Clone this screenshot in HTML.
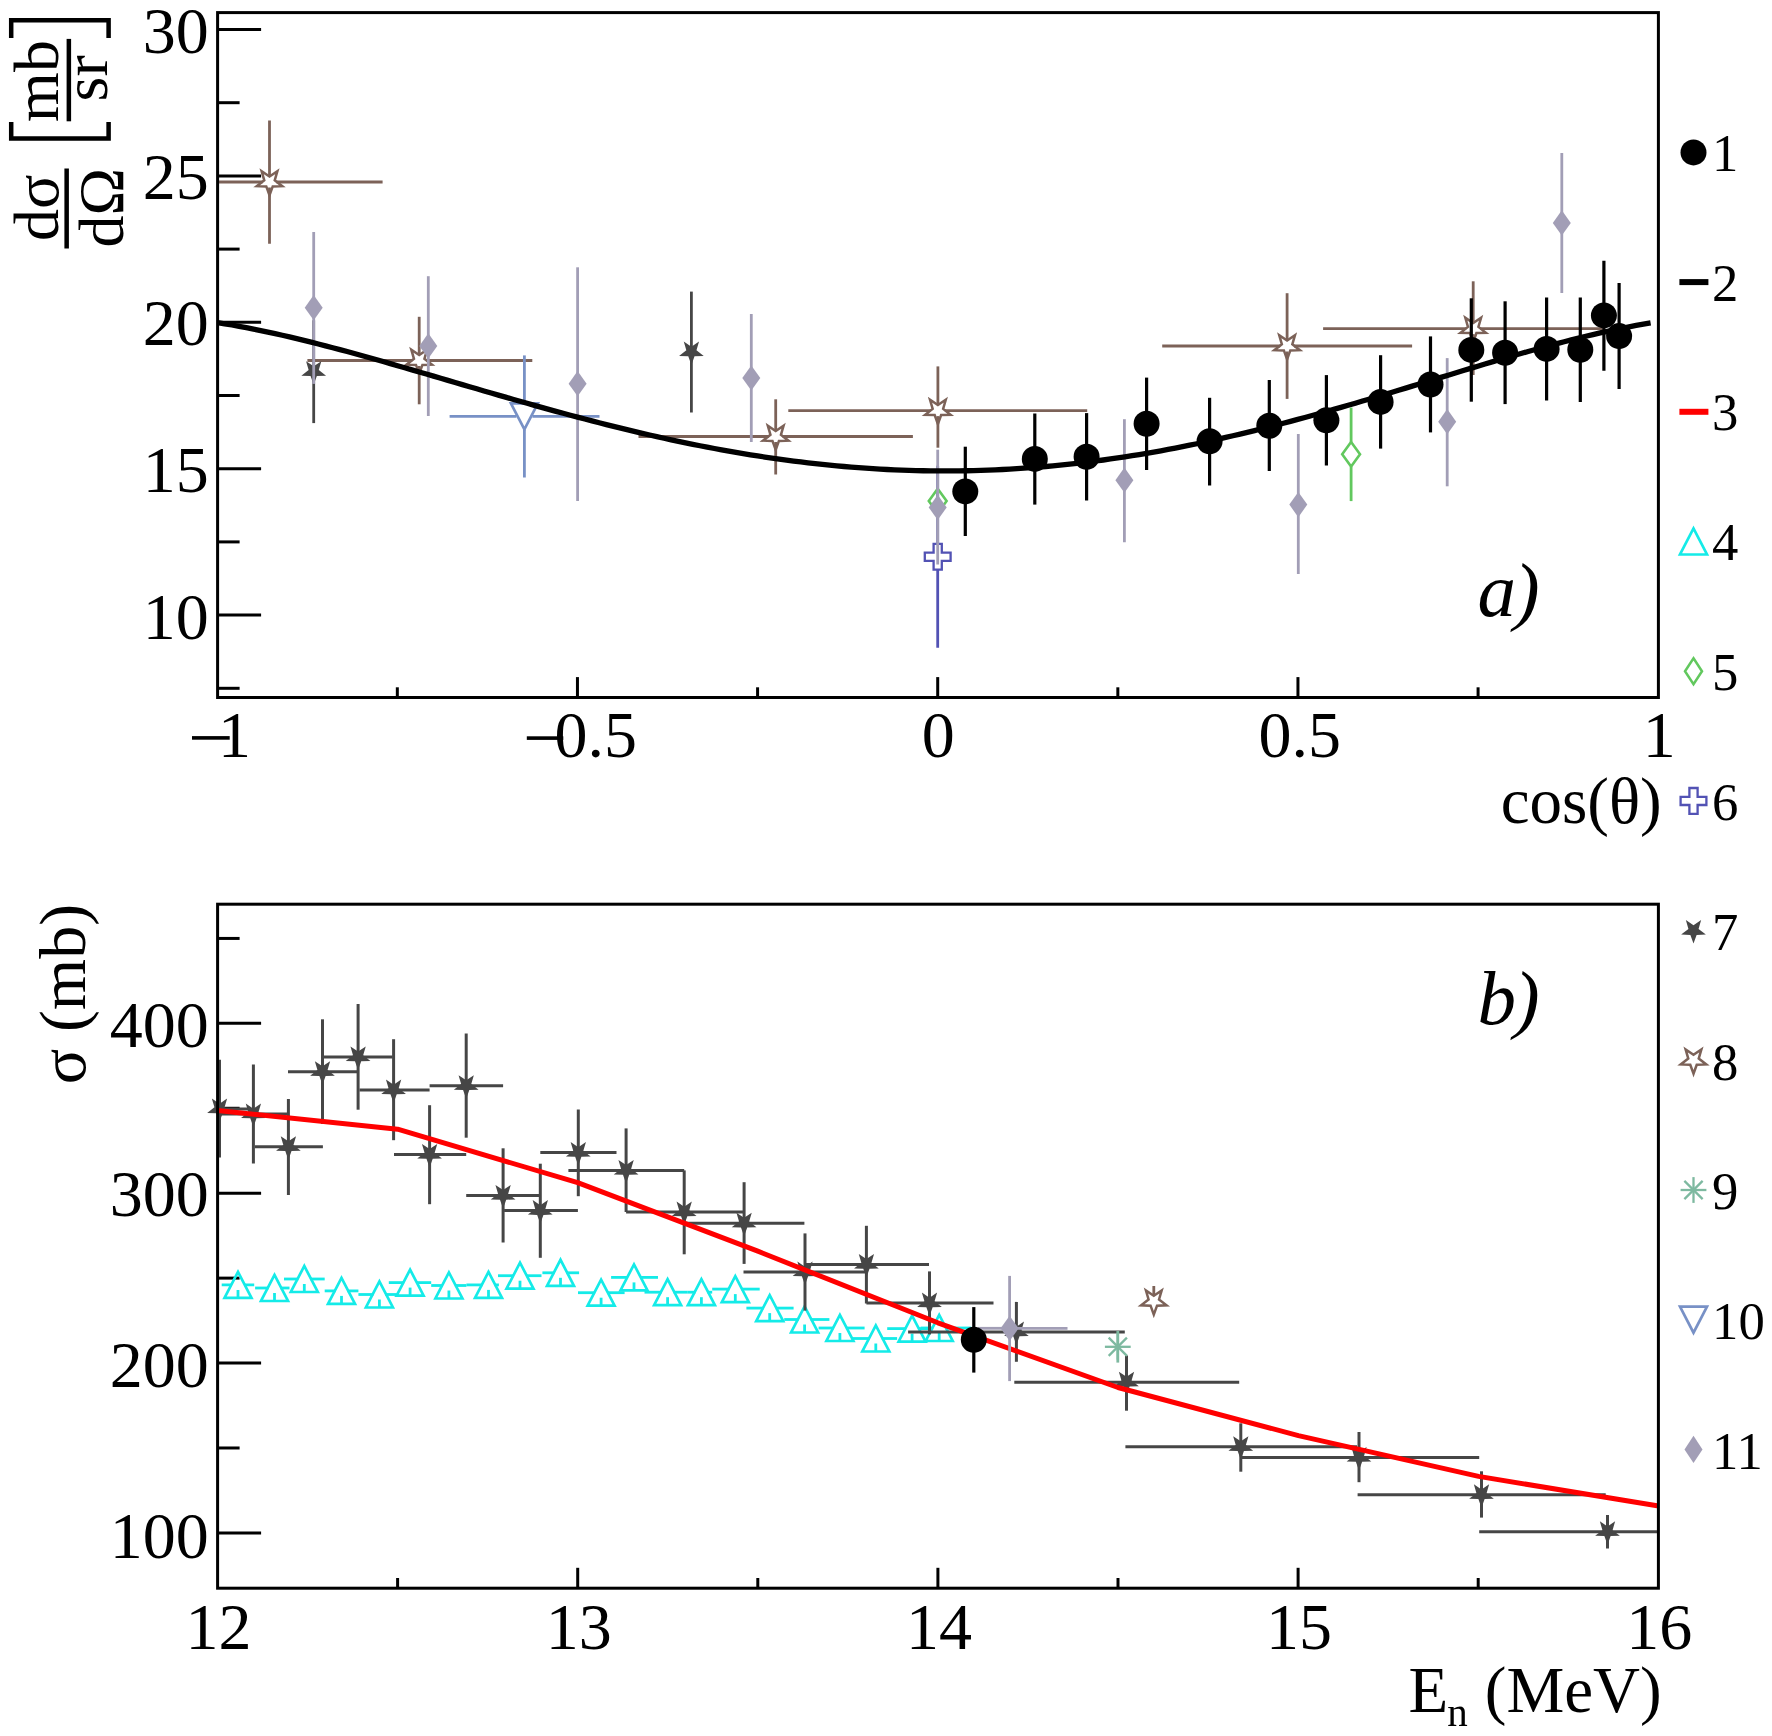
<!DOCTYPE html>
<html><head><meta charset="utf-8"><style>
html,body{margin:0;padding:0;background:#fff;width:1772px;height:1736px;overflow:hidden;}
svg text{font-family:"Liberation Serif",serif;fill:#000;}
</style></head><body>
<svg width="1772" height="1736" viewBox="0 0 1772 1736" style="display:block;will-change:transform">
<rect x="0" y="0" width="1772" height="1736" fill="#fff"/>
<line x1="217.6" y1="615.1" x2="261.1" y2="615.1" stroke="#000" stroke-width="3"/>
<line x1="217.6" y1="468.7" x2="261.1" y2="468.7" stroke="#000" stroke-width="3"/>
<line x1="217.6" y1="322.3" x2="261.1" y2="322.3" stroke="#000" stroke-width="3"/>
<line x1="217.6" y1="175.9" x2="261.1" y2="175.9" stroke="#000" stroke-width="3"/>
<line x1="217.6" y1="29.5" x2="261.1" y2="29.5" stroke="#000" stroke-width="3"/>
<line x1="217.6" y1="688.3" x2="239.6" y2="688.3" stroke="#000" stroke-width="3"/>
<line x1="217.6" y1="541.9" x2="239.6" y2="541.9" stroke="#000" stroke-width="3"/>
<line x1="217.6" y1="395.5" x2="239.6" y2="395.5" stroke="#000" stroke-width="3"/>
<line x1="217.6" y1="249.1" x2="239.6" y2="249.1" stroke="#000" stroke-width="3"/>
<line x1="217.6" y1="102.7" x2="239.6" y2="102.7" stroke="#000" stroke-width="3"/>
<line x1="577.45" y1="697.5" x2="577.45" y2="677.1" stroke="#000" stroke-width="3"/>
<line x1="937.7" y1="697.5" x2="937.7" y2="677.1" stroke="#000" stroke-width="3"/>
<line x1="1297.95" y1="697.5" x2="1297.95" y2="677.1" stroke="#000" stroke-width="3"/>
<line x1="397.33" y1="697.5" x2="397.33" y2="687.3" stroke="#000" stroke-width="3"/>
<line x1="757.58" y1="697.5" x2="757.58" y2="687.3" stroke="#000" stroke-width="3"/>
<line x1="1117.83" y1="697.5" x2="1117.83" y2="687.3" stroke="#000" stroke-width="3"/>
<line x1="1478.08" y1="697.5" x2="1478.08" y2="687.3" stroke="#000" stroke-width="3"/>
<line x1="217.6" y1="1532.9" x2="261.1" y2="1532.9" stroke="#000" stroke-width="3"/>
<line x1="217.6" y1="1363.05" x2="261.1" y2="1363.05" stroke="#000" stroke-width="3"/>
<line x1="217.6" y1="1193.2" x2="261.1" y2="1193.2" stroke="#000" stroke-width="3"/>
<line x1="217.6" y1="1023.35" x2="261.1" y2="1023.35" stroke="#000" stroke-width="3"/>
<line x1="217.6" y1="1447.98" x2="239.6" y2="1447.98" stroke="#000" stroke-width="3"/>
<line x1="217.6" y1="1278.12" x2="239.6" y2="1278.12" stroke="#000" stroke-width="3"/>
<line x1="217.6" y1="1108.28" x2="239.6" y2="1108.28" stroke="#000" stroke-width="3"/>
<line x1="217.6" y1="938.43" x2="239.6" y2="938.43" stroke="#000" stroke-width="3"/>
<line x1="577.7" y1="1588.2" x2="577.7" y2="1567.8" stroke="#000" stroke-width="3"/>
<line x1="937.9" y1="1588.2" x2="937.9" y2="1567.8" stroke="#000" stroke-width="3"/>
<line x1="1298.1" y1="1588.2" x2="1298.1" y2="1567.8" stroke="#000" stroke-width="3"/>
<line x1="397.6" y1="1588.2" x2="397.6" y2="1578" stroke="#000" stroke-width="3"/>
<line x1="757.8" y1="1588.2" x2="757.8" y2="1578" stroke="#000" stroke-width="3"/>
<line x1="1118" y1="1588.2" x2="1118" y2="1578" stroke="#000" stroke-width="3"/>
<line x1="1478.2" y1="1588.2" x2="1478.2" y2="1578" stroke="#000" stroke-width="3"/>
<text x="208.7" y="52.7" font-size="66" text-anchor="end" >30</text>
<text x="208.7" y="199.4" font-size="66" text-anchor="end" >25</text>
<text x="208.7" y="345.3" font-size="66" text-anchor="end" >20</text>
<text x="208.7" y="492.2" font-size="66" text-anchor="end" >15</text>
<text x="208.7" y="639.3" font-size="66" text-anchor="end" >10</text>
<text x="208.7" y="1046.9" font-size="66" text-anchor="end" >400</text>
<text x="208.7" y="1215.8" font-size="66" text-anchor="end" >300</text>
<text x="208.7" y="1387.2" font-size="66" text-anchor="end" >200</text>
<text x="208.7" y="1558" font-size="66" text-anchor="end" >100</text>
<rect x="192" y="736.1" width="37.7" height="3.6" fill="#000"/>
<text x="218.1" y="756.8" font-size="66" text-anchor="start" >1</text>
<rect x="526.8" y="736.3" width="36.5" height="3.6" fill="#000"/>
<text x="554.4" y="756.8" font-size="66" text-anchor="start" >0.5</text>
<text x="921.7" y="756.8" font-size="66" text-anchor="start" >0</text>
<text x="1258.5" y="756.8" font-size="66" text-anchor="start" >0.5</text>
<text x="1642.8" y="756.8" font-size="66" text-anchor="start" >1</text>
<text x="218.5" y="1648.6" font-size="66" text-anchor="middle" >12</text>
<text x="578.7" y="1648.6" font-size="66" text-anchor="middle" >13</text>
<text x="938.9" y="1648.6" font-size="66" text-anchor="middle" >14</text>
<text x="1299.1" y="1648.6" font-size="66" text-anchor="middle" >15</text>
<text x="1659.3" y="1648.6" font-size="66" text-anchor="middle" >16</text>
<text x="1500.7" y="822.9" font-size="65" text-anchor="start" >cos(θ)</text>
<text x="1408.4" y="1711.6" font-size="65" text-anchor="start" >E</text>
<text x="1447.3" y="1725.5" font-size="41" text-anchor="start" >n</text>
<text x="1484.8" y="1711.6" font-size="65" text-anchor="start" >(MeV)</text>
<text transform="translate(85.3,1084.2) rotate(-90)" font-size="66">σ (mb)</text>
<g transform="translate(0,0)">
<text transform="translate(57.8,207.8) rotate(-90)" font-size="64" text-anchor="middle">dσ</text>
<text transform="translate(123,207.8) rotate(-90)" font-size="64" text-anchor="middle">dΩ</text>
<rect x="64.4" y="168.5" width="4.5" height="80" fill="#000"/>
<text transform="translate(57.7,81) rotate(-90)" font-size="64" text-anchor="middle">mb</text>
<text transform="translate(107.1,78.3) rotate(-90)" font-size="64" text-anchor="middle">sr</text>
<rect x="66.6" y="38.9" width="4.5" height="82.4" fill="#000"/>
<path d="M11.2,122 L11.2,138.5 L108.6,138.5 L108.6,122" fill="none" stroke="#000" stroke-width="4.5"/>
<path d="M11.2,38 L11.2,20.2 L108.6,20.2 L108.6,38" fill="none" stroke="#000" stroke-width="4.5"/>
</g>
<text x="1477.6" y="615.9" font-size="77" text-anchor="start" font-style="italic" >a<tspan dx="-2">)</tspan></text>
<text x="1477.6" y="1024.2" font-size="77" text-anchor="start" font-style="italic" >b<tspan dx="-2">)</tspan></text>
<clipPath id="ca"><rect x="217.6" y="12.6" width="1440.8000000000002" height="684.9"/></clipPath>
<clipPath id="cb"><rect x="217.6" y="904.2" width="1440.8000000000002" height="684.0"/></clipPath>
<line x1="937.7" y1="465.7" x2="937.7" y2="543.8" stroke="#5252b4" stroke-width="2.8" clip-path="url(#ca)"/>
<line x1="937.7" y1="569.6" x2="937.7" y2="647.7" stroke="#5252b4" stroke-width="2.8" clip-path="url(#ca)"/>
<path d="M933.6,543.8 L941.8,543.8 L941.8,552.6 L950.6,552.6 L950.6,560.8 L941.8,560.8 L941.8,569.6 L933.6,569.6 L933.6,560.8 L924.8,560.8 L924.8,552.6 L933.6,552.6 Z" stroke="#5252b4" stroke-width="2.3" fill="none" />
<line x1="1351.1" y1="407.6" x2="1351.1" y2="441.9" stroke="#62c85e" stroke-width="2.8" clip-path="url(#ca)"/>
<line x1="1351.1" y1="466.5" x2="1351.1" y2="501.1" stroke="#62c85e" stroke-width="2.8" clip-path="url(#ca)"/>
<path d="M1351.1,441.9 L1360,454.2 L1351.1,466.5 L1342.2,454.2 Z" stroke="#62c85e" stroke-width="2.6" fill="none" />
<path d="M937.7,488.7 L946.6,501 L937.7,513.3 L928.8,501 Z" stroke="#62c85e" stroke-width="2.6" fill="none" />
<line x1="269.5" y1="120.4" x2="269.5" y2="176.5" stroke="#7c6258" stroke-width="2.8" clip-path="url(#ca)"/>
<line x1="269.5" y1="187.5" x2="269.5" y2="243.8" stroke="#7c6258" stroke-width="2.8" clip-path="url(#ca)"/>
<line x1="217" y1="182" x2="262.5" y2="182" stroke="#7c6258" stroke-width="2.8" clip-path="url(#ca)"/>
<line x1="276.5" y1="182" x2="382.6" y2="182" stroke="#7c6258" stroke-width="2.8" clip-path="url(#ca)"/>
<path d="M269.5,195.4 L266.27,186.45 L256.76,186.14 L264.27,180.3 L261.62,171.16 L269.5,176.5 L277.38,171.16 L274.73,180.3 L282.24,186.14 L272.73,186.45 Z" stroke="#7c6258" stroke-width="2.5" fill="none" stroke-linejoin="miter" stroke-miterlimit="10"/>
<line x1="419.2" y1="316.8" x2="419.2" y2="355" stroke="#7c6258" stroke-width="2.8" clip-path="url(#ca)"/>
<line x1="419.2" y1="366" x2="419.2" y2="404.3" stroke="#7c6258" stroke-width="2.8" clip-path="url(#ca)"/>
<line x1="307.4" y1="360.5" x2="412.2" y2="360.5" stroke="#7c6258" stroke-width="2.8" clip-path="url(#ca)"/>
<line x1="426.2" y1="360.5" x2="532.3" y2="360.5" stroke="#7c6258" stroke-width="2.8" clip-path="url(#ca)"/>
<path d="M419.2,373.9 L415.97,364.95 L406.46,364.64 L413.97,358.8 L411.32,349.66 L419.2,355 L427.08,349.66 L424.43,358.8 L431.94,364.64 L422.43,364.95 Z" stroke="#7c6258" stroke-width="2.5" fill="none" stroke-linejoin="miter" stroke-miterlimit="10"/>
<line x1="775.7" y1="399.3" x2="775.7" y2="431" stroke="#7c6258" stroke-width="2.8" clip-path="url(#ca)"/>
<line x1="775.7" y1="442" x2="775.7" y2="474.5" stroke="#7c6258" stroke-width="2.8" clip-path="url(#ca)"/>
<line x1="638.5" y1="436.5" x2="768.7" y2="436.5" stroke="#7c6258" stroke-width="2.8" clip-path="url(#ca)"/>
<line x1="782.7" y1="436.5" x2="912.9" y2="436.5" stroke="#7c6258" stroke-width="2.8" clip-path="url(#ca)"/>
<path d="M775.7,449.9 L772.47,440.95 L762.96,440.64 L770.47,434.8 L767.82,425.66 L775.7,431 L783.58,425.66 L780.93,434.8 L788.44,440.64 L778.93,440.95 Z" stroke="#7c6258" stroke-width="2.5" fill="none" stroke-linejoin="miter" stroke-miterlimit="10"/>
<line x1="937.9" y1="366.4" x2="937.9" y2="405.1" stroke="#7c6258" stroke-width="2.8" clip-path="url(#ca)"/>
<line x1="937.9" y1="416.1" x2="937.9" y2="447.7" stroke="#7c6258" stroke-width="2.8" clip-path="url(#ca)"/>
<line x1="788.3" y1="410.6" x2="930.9" y2="410.6" stroke="#7c6258" stroke-width="2.8" clip-path="url(#ca)"/>
<line x1="944.9" y1="410.6" x2="1087.2" y2="410.6" stroke="#7c6258" stroke-width="2.8" clip-path="url(#ca)"/>
<path d="M937.9,424 L934.67,415.05 L925.16,414.74 L932.67,408.9 L930.02,399.76 L937.9,405.1 L945.78,399.76 L943.13,408.9 L950.64,414.74 L941.13,415.05 Z" stroke="#7c6258" stroke-width="2.5" fill="none" stroke-linejoin="miter" stroke-miterlimit="10"/>
<line x1="1287.1" y1="293.2" x2="1287.1" y2="340.5" stroke="#7c6258" stroke-width="2.8" clip-path="url(#ca)"/>
<line x1="1287.1" y1="351.5" x2="1287.1" y2="398.9" stroke="#7c6258" stroke-width="2.8" clip-path="url(#ca)"/>
<line x1="1162.2" y1="346" x2="1280.1" y2="346" stroke="#7c6258" stroke-width="2.8" clip-path="url(#ca)"/>
<line x1="1294.1" y1="346" x2="1412.1" y2="346" stroke="#7c6258" stroke-width="2.8" clip-path="url(#ca)"/>
<path d="M1287.1,359.4 L1283.87,350.45 L1274.36,350.14 L1281.87,344.3 L1279.22,335.16 L1287.1,340.5 L1294.98,335.16 L1292.33,344.3 L1299.84,350.14 L1290.33,350.45 Z" stroke="#7c6258" stroke-width="2.5" fill="none" stroke-linejoin="miter" stroke-miterlimit="10"/>
<line x1="1473.2" y1="281.3" x2="1473.2" y2="323.1" stroke="#7c6258" stroke-width="2.8" clip-path="url(#ca)"/>
<line x1="1473.2" y1="334.1" x2="1473.2" y2="375" stroke="#7c6258" stroke-width="2.8" clip-path="url(#ca)"/>
<line x1="1323.1" y1="328.6" x2="1466.2" y2="328.6" stroke="#7c6258" stroke-width="2.8" clip-path="url(#ca)"/>
<line x1="1480.2" y1="328.6" x2="1602.6" y2="328.6" stroke="#7c6258" stroke-width="2.8" clip-path="url(#ca)"/>
<path d="M1473.2,342 L1469.97,333.05 L1460.46,332.74 L1467.97,326.9 L1465.32,317.76 L1473.2,323.1 L1481.08,317.76 L1478.43,326.9 L1485.94,332.74 L1476.43,333.05 Z" stroke="#7c6258" stroke-width="2.5" fill="none" stroke-linejoin="miter" stroke-miterlimit="10"/>
<line x1="313.7" y1="320.3" x2="313.7" y2="371.7" stroke="#464646" stroke-width="2.8" clip-path="url(#ca)"/>
<line x1="313.7" y1="371.7" x2="313.7" y2="423.1" stroke="#464646" stroke-width="2.8" clip-path="url(#ca)"/>
<path d="M313.7,384.7 L310.57,376.01 L301.34,375.72 L308.63,370.05 L306.06,361.18 L313.7,366.37 L321.34,361.18 L318.77,370.05 L326.06,375.72 L316.83,376.01 Z" stroke="none" stroke-width="0" fill="#464646" />
<line x1="691.4" y1="291.6" x2="691.4" y2="352" stroke="#464646" stroke-width="2.8" clip-path="url(#ca)"/>
<line x1="691.4" y1="352" x2="691.4" y2="412.5" stroke="#464646" stroke-width="2.8" clip-path="url(#ca)"/>
<path d="M691.4,365 L688.27,356.31 L679.04,356.02 L686.33,350.35 L683.76,341.48 L691.4,346.67 L699.04,341.48 L696.47,350.35 L703.76,356.02 L694.53,356.31 Z" stroke="none" stroke-width="0" fill="#464646" />
<line x1="524.4" y1="355.4" x2="524.4" y2="403.4" stroke="#7891c6" stroke-width="2.8" clip-path="url(#ca)"/>
<line x1="524.4" y1="429.4" x2="524.4" y2="477.5" stroke="#7891c6" stroke-width="2.8" clip-path="url(#ca)"/>
<line x1="449.6" y1="416.4" x2="516.4" y2="416.4" stroke="#7891c6" stroke-width="2.8" clip-path="url(#ca)"/>
<line x1="532.4" y1="416.4" x2="599.5" y2="416.4" stroke="#7891c6" stroke-width="2.8" clip-path="url(#ca)"/>
<path d="M510.9,403.4 L537.9,403.4 L524.4,429.4 Z" stroke="#7891c6" stroke-width="2.7" fill="none" />
<line x1="313.7" y1="232.1" x2="313.7" y2="307.7" stroke="#a29eb6" stroke-width="2.8" clip-path="url(#ca)"/>
<line x1="313.7" y1="307.7" x2="313.7" y2="383.9" stroke="#a29eb6" stroke-width="2.8" clip-path="url(#ca)"/>
<path d="M313.7,295.1 L322.7,307.7 L313.7,320.3 L304.7,307.7 Z" stroke="none" stroke-width="0" fill="#a29eb6" />
<line x1="428.3" y1="276.2" x2="428.3" y2="345.9" stroke="#a29eb6" stroke-width="2.8" clip-path="url(#ca)"/>
<line x1="428.3" y1="345.9" x2="428.3" y2="416" stroke="#a29eb6" stroke-width="2.8" clip-path="url(#ca)"/>
<path d="M428.3,333.3 L437.3,345.9 L428.3,358.5 L419.3,345.9 Z" stroke="none" stroke-width="0" fill="#a29eb6" />
<line x1="577.6" y1="267.3" x2="577.6" y2="383.7" stroke="#a29eb6" stroke-width="2.8" clip-path="url(#ca)"/>
<line x1="577.6" y1="383.7" x2="577.6" y2="501" stroke="#a29eb6" stroke-width="2.8" clip-path="url(#ca)"/>
<path d="M577.6,371.1 L586.6,383.7 L577.6,396.3 L568.6,383.7 Z" stroke="none" stroke-width="0" fill="#a29eb6" />
<line x1="751.3" y1="314" x2="751.3" y2="378" stroke="#a29eb6" stroke-width="2.8" clip-path="url(#ca)"/>
<line x1="751.3" y1="378" x2="751.3" y2="442" stroke="#a29eb6" stroke-width="2.8" clip-path="url(#ca)"/>
<path d="M751.3,365.4 L760.3,378 L751.3,390.6 L742.3,378 Z" stroke="none" stroke-width="0" fill="#a29eb6" />
<line x1="937.7" y1="449.7" x2="937.7" y2="507.4" stroke="#a29eb6" stroke-width="2.8" clip-path="url(#ca)"/>
<line x1="937.7" y1="507.4" x2="937.7" y2="564.5" stroke="#a29eb6" stroke-width="2.8" clip-path="url(#ca)"/>
<path d="M937.7,494.8 L946.7,507.4 L937.7,520 L928.7,507.4 Z" stroke="none" stroke-width="0" fill="#a29eb6" />
<line x1="1124.4" y1="419.2" x2="1124.4" y2="480.2" stroke="#a29eb6" stroke-width="2.8" clip-path="url(#ca)"/>
<line x1="1124.4" y1="480.2" x2="1124.4" y2="542.2" stroke="#a29eb6" stroke-width="2.8" clip-path="url(#ca)"/>
<path d="M1124.4,467.6 L1133.4,480.2 L1124.4,492.8 L1115.4,480.2 Z" stroke="none" stroke-width="0" fill="#a29eb6" />
<line x1="1298.3" y1="434" x2="1298.3" y2="504.6" stroke="#a29eb6" stroke-width="2.8" clip-path="url(#ca)"/>
<line x1="1298.3" y1="504.6" x2="1298.3" y2="574.1" stroke="#a29eb6" stroke-width="2.8" clip-path="url(#ca)"/>
<path d="M1298.3,492 L1307.3,504.6 L1298.3,517.2 L1289.3,504.6 Z" stroke="none" stroke-width="0" fill="#a29eb6" />
<line x1="1447.2" y1="358.1" x2="1447.2" y2="421.7" stroke="#a29eb6" stroke-width="2.8" clip-path="url(#ca)"/>
<line x1="1447.2" y1="421.7" x2="1447.2" y2="486.3" stroke="#a29eb6" stroke-width="2.8" clip-path="url(#ca)"/>
<path d="M1447.2,409.1 L1456.2,421.7 L1447.2,434.3 L1438.2,421.7 Z" stroke="none" stroke-width="0" fill="#a29eb6" />
<line x1="1561.8" y1="152.9" x2="1561.8" y2="222.9" stroke="#a29eb6" stroke-width="2.8" clip-path="url(#ca)"/>
<line x1="1561.8" y1="222.9" x2="1561.8" y2="293" stroke="#a29eb6" stroke-width="2.8" clip-path="url(#ca)"/>
<path d="M1561.8,210.3 L1570.8,222.9 L1561.8,235.5 L1552.8,222.9 Z" stroke="none" stroke-width="0" fill="#a29eb6" />
<path d="M217.5,322.58 L224.7,323.76 L231.9,325 L239.1,326.3 L246.31,327.66 L253.51,329.08 L260.71,330.55 L267.91,332.08 L275.11,333.65 L282.31,335.27 L289.52,336.93 L296.72,338.64 L303.92,340.39 L311.12,342.17 L318.32,343.99 L325.52,345.84 L332.72,347.72 L339.93,349.63 L347.13,351.56 L354.33,353.52 L361.53,355.51 L368.73,357.51 L375.93,359.53 L383.13,361.57 L390.34,363.63 L397.54,365.69 L404.74,367.77 L411.94,369.86 L419.14,371.95 L426.34,374.06 L433.55,376.16 L440.75,378.27 L447.95,380.38 L455.15,382.5 L462.35,384.61 L469.55,386.72 L476.75,388.82 L483.96,390.92 L491.16,393.01 L498.36,395.09 L505.56,397.17 L512.76,399.23 L519.96,401.28 L527.16,403.32 L534.37,405.35 L541.57,407.36 L548.77,409.35 L555.97,411.33 L563.17,413.29 L570.37,415.22 L577.58,417.14 L584.78,419.04 L591.98,420.91 L599.18,422.76 L606.38,424.59 L613.58,426.39 L620.78,428.16 L627.99,429.91 L635.19,431.63 L642.39,433.32 L649.59,434.98 L656.79,436.62 L663.99,438.22 L671.19,439.79 L678.4,441.33 L685.6,442.83 L692.8,444.3 L700,445.74 L707.2,447.14 L714.4,448.51 L721.61,449.84 L728.81,451.14 L736.01,452.39 L743.21,453.61 L750.41,454.8 L757.61,455.94 L764.81,457.05 L772.02,458.11 L779.22,459.14 L786.42,460.12 L793.62,461.07 L800.82,461.97 L808.02,462.83 L815.23,463.65 L822.43,464.43 L829.63,465.17 L836.83,465.86 L844.03,466.51 L851.23,467.11 L858.43,467.68 L865.64,468.19 L872.84,468.67 L880.04,469.1 L887.24,469.48 L894.44,469.82 L901.64,470.12 L908.84,470.37 L916.05,470.58 L923.25,470.74 L930.45,470.85 L937.65,470.92 L944.85,470.95 L952.05,470.92 L959.26,470.86 L966.46,470.74 L973.66,470.59 L980.86,470.38 L988.06,470.13 L995.26,469.84 L1002.46,469.49 L1009.67,469.11 L1016.87,468.67 L1024.07,468.2 L1031.27,467.67 L1038.47,467.11 L1045.67,466.49 L1052.87,465.84 L1060.08,465.13 L1067.28,464.39 L1074.48,463.6 L1081.68,462.76 L1088.88,461.88 L1096.08,460.96 L1103.29,460 L1110.49,458.99 L1117.69,457.94 L1124.89,456.85 L1132.09,455.72 L1139.29,454.54 L1146.49,453.33 L1153.7,452.07 L1160.9,450.78 L1168.1,449.45 L1175.3,448.07 L1182.5,446.66 L1189.7,445.21 L1196.91,443.73 L1204.11,442.2 L1211.31,440.65 L1218.51,439.05 L1225.71,437.43 L1232.91,435.76 L1240.11,434.07 L1247.32,432.34 L1254.52,430.58 L1261.72,428.79 L1268.92,426.97 L1276.12,425.13 L1283.32,423.25 L1290.52,421.35 L1297.73,419.42 L1304.93,417.46 L1312.13,415.48 L1319.33,413.48 L1326.53,411.46 L1333.73,409.41 L1340.94,407.35 L1348.14,405.27 L1355.34,403.17 L1362.54,401.05 L1369.74,398.92 L1376.94,396.77 L1384.14,394.62 L1391.35,392.45 L1398.55,390.28 L1405.75,388.09 L1412.95,385.9 L1420.15,383.71 L1427.35,381.51 L1434.55,379.31 L1441.76,377.12 L1448.96,374.92 L1456.16,372.73 L1463.36,370.54 L1470.56,368.36 L1477.76,366.2 L1484.97,364.04 L1492.17,361.9 L1499.37,359.77 L1506.57,357.66 L1513.77,355.57 L1520.97,353.5 L1528.17,351.46 L1535.38,349.44 L1542.58,347.45 L1549.78,345.5 L1556.98,343.58 L1564.18,341.69 L1571.38,339.85 L1578.58,338.04 L1585.79,336.28 L1592.99,334.57 L1600.19,332.91 L1607.39,331.3 L1614.59,329.75 L1621.79,328.25 L1629,326.82 L1636.2,325.46 L1643.4,324.16 L1650.6,322.93" stroke="#000" stroke-width="5.3" fill="none" stroke-linejoin="round" clip-path="url(#ca)"/>
<line x1="965.3" y1="446.7" x2="965.3" y2="491.4" stroke="#000000" stroke-width="3.2" clip-path="url(#ca)"/>
<line x1="965.3" y1="491.4" x2="965.3" y2="536" stroke="#000000" stroke-width="3.2" clip-path="url(#ca)"/>
<circle cx="965.3" cy="491.4" r="13" fill="#000000"/>
<line x1="1034.8" y1="413.5" x2="1034.8" y2="458.9" stroke="#000000" stroke-width="3.2" clip-path="url(#ca)"/>
<line x1="1034.8" y1="458.9" x2="1034.8" y2="504.6" stroke="#000000" stroke-width="3.2" clip-path="url(#ca)"/>
<circle cx="1034.8" cy="458.9" r="13" fill="#000000"/>
<line x1="1086.6" y1="413.1" x2="1086.6" y2="456.8" stroke="#000000" stroke-width="3.2" clip-path="url(#ca)"/>
<line x1="1086.6" y1="456.8" x2="1086.6" y2="500.5" stroke="#000000" stroke-width="3.2" clip-path="url(#ca)"/>
<circle cx="1086.6" cy="456.8" r="13" fill="#000000"/>
<line x1="1146.6" y1="377.6" x2="1146.6" y2="423.7" stroke="#000000" stroke-width="3.2" clip-path="url(#ca)"/>
<line x1="1146.6" y1="423.7" x2="1146.6" y2="470" stroke="#000000" stroke-width="3.2" clip-path="url(#ca)"/>
<circle cx="1146.6" cy="423.7" r="13" fill="#000000"/>
<line x1="1209.6" y1="397.8" x2="1209.6" y2="441.3" stroke="#000000" stroke-width="3.2" clip-path="url(#ca)"/>
<line x1="1209.6" y1="441.3" x2="1209.6" y2="485.5" stroke="#000000" stroke-width="3.2" clip-path="url(#ca)"/>
<circle cx="1209.6" cy="441.3" r="13" fill="#000000"/>
<line x1="1269.3" y1="380" x2="1269.3" y2="425.7" stroke="#000000" stroke-width="3.2" clip-path="url(#ca)"/>
<line x1="1269.3" y1="425.7" x2="1269.3" y2="471" stroke="#000000" stroke-width="3.2" clip-path="url(#ca)"/>
<circle cx="1269.3" cy="425.7" r="13" fill="#000000"/>
<line x1="1326.4" y1="375.1" x2="1326.4" y2="420.2" stroke="#000000" stroke-width="3.2" clip-path="url(#ca)"/>
<line x1="1326.4" y1="420.2" x2="1326.4" y2="465.5" stroke="#000000" stroke-width="3.2" clip-path="url(#ca)"/>
<circle cx="1326.4" cy="420.2" r="13" fill="#000000"/>
<line x1="1380.6" y1="355.2" x2="1380.6" y2="401.9" stroke="#000000" stroke-width="3.2" clip-path="url(#ca)"/>
<line x1="1380.6" y1="401.9" x2="1380.6" y2="448.6" stroke="#000000" stroke-width="3.2" clip-path="url(#ca)"/>
<circle cx="1380.6" cy="401.9" r="13" fill="#000000"/>
<line x1="1430.5" y1="336.4" x2="1430.5" y2="384.5" stroke="#000000" stroke-width="3.2" clip-path="url(#ca)"/>
<line x1="1430.5" y1="384.5" x2="1430.5" y2="432.4" stroke="#000000" stroke-width="3.2" clip-path="url(#ca)"/>
<circle cx="1430.5" cy="384.5" r="13" fill="#000000"/>
<line x1="1471.3" y1="298.3" x2="1471.3" y2="349.9" stroke="#000000" stroke-width="3.2" clip-path="url(#ca)"/>
<line x1="1471.3" y1="349.9" x2="1471.3" y2="401.7" stroke="#000000" stroke-width="3.2" clip-path="url(#ca)"/>
<circle cx="1471.3" cy="349.9" r="13" fill="#000000"/>
<line x1="1505.1" y1="301.3" x2="1505.1" y2="352.8" stroke="#000000" stroke-width="3.2" clip-path="url(#ca)"/>
<line x1="1505.1" y1="352.8" x2="1505.1" y2="404.1" stroke="#000000" stroke-width="3.2" clip-path="url(#ca)"/>
<circle cx="1505.1" cy="352.8" r="13" fill="#000000"/>
<line x1="1546.6" y1="297.4" x2="1546.6" y2="348.9" stroke="#000000" stroke-width="3.2" clip-path="url(#ca)"/>
<line x1="1546.6" y1="348.9" x2="1546.6" y2="400.4" stroke="#000000" stroke-width="3.2" clip-path="url(#ca)"/>
<circle cx="1546.6" cy="348.9" r="13" fill="#000000"/>
<line x1="1580.3" y1="297.4" x2="1580.3" y2="349.8" stroke="#000000" stroke-width="3.2" clip-path="url(#ca)"/>
<line x1="1580.3" y1="349.8" x2="1580.3" y2="401.9" stroke="#000000" stroke-width="3.2" clip-path="url(#ca)"/>
<circle cx="1580.3" cy="349.8" r="13" fill="#000000"/>
<line x1="1603.9" y1="260.7" x2="1603.9" y2="315.4" stroke="#000000" stroke-width="3.2" clip-path="url(#ca)"/>
<line x1="1603.9" y1="315.4" x2="1603.9" y2="370.7" stroke="#000000" stroke-width="3.2" clip-path="url(#ca)"/>
<circle cx="1603.9" cy="315.4" r="13" fill="#000000"/>
<line x1="1619.1" y1="283.1" x2="1619.1" y2="336.1" stroke="#000000" stroke-width="3.2" clip-path="url(#ca)"/>
<line x1="1619.1" y1="336.1" x2="1619.1" y2="388.9" stroke="#000000" stroke-width="3.2" clip-path="url(#ca)"/>
<circle cx="1619.1" cy="336.1" r="13" fill="#000000"/>
<line x1="221.7" y1="1284.9" x2="232" y2="1284.9" stroke="#14ebe8" stroke-width="2.8" clip-path="url(#cb)"/>
<line x1="244" y1="1284.9" x2="254.2" y2="1284.9" stroke="#14ebe8" stroke-width="2.8" clip-path="url(#cb)"/>
<line x1="238" y1="1289.9" x2="238" y2="1297.9" stroke="#14ebe8" stroke-width="2.8" clip-path="url(#cb)"/>
<path d="M224.5,1297.9 L251.5,1297.9 L238,1271.9 Z" stroke="#14ebe8" stroke-width="2.7" fill="none" />
<line x1="255.1" y1="1288" x2="268.5" y2="1288" stroke="#14ebe8" stroke-width="2.8" clip-path="url(#cb)"/>
<line x1="280.5" y1="1288" x2="289.5" y2="1288" stroke="#14ebe8" stroke-width="2.8" clip-path="url(#cb)"/>
<line x1="274.5" y1="1293" x2="274.5" y2="1301" stroke="#14ebe8" stroke-width="2.8" clip-path="url(#cb)"/>
<path d="M261,1301 L288,1301 L274.5,1275 Z" stroke="#14ebe8" stroke-width="2.7" fill="none" />
<line x1="284" y1="1279" x2="298.3" y2="1279" stroke="#14ebe8" stroke-width="2.8" clip-path="url(#cb)"/>
<line x1="310.3" y1="1279" x2="324.7" y2="1279" stroke="#14ebe8" stroke-width="2.8" clip-path="url(#cb)"/>
<line x1="304.3" y1="1284" x2="304.3" y2="1292" stroke="#14ebe8" stroke-width="2.8" clip-path="url(#cb)"/>
<path d="M290.8,1292 L317.8,1292 L304.3,1266 Z" stroke="#14ebe8" stroke-width="2.7" fill="none" />
<line x1="324.7" y1="1290.9" x2="335.5" y2="1290.9" stroke="#14ebe8" stroke-width="2.8" clip-path="url(#cb)"/>
<line x1="347.5" y1="1290.9" x2="358.4" y2="1290.9" stroke="#14ebe8" stroke-width="2.8" clip-path="url(#cb)"/>
<line x1="341.5" y1="1295.9" x2="341.5" y2="1303.9" stroke="#14ebe8" stroke-width="2.8" clip-path="url(#cb)"/>
<path d="M328,1303.9 L355,1303.9 L341.5,1277.9 Z" stroke="#14ebe8" stroke-width="2.7" fill="none" />
<line x1="358.4" y1="1294.5" x2="373.4" y2="1294.5" stroke="#14ebe8" stroke-width="2.8" clip-path="url(#cb)"/>
<line x1="385.4" y1="1294.5" x2="396.9" y2="1294.5" stroke="#14ebe8" stroke-width="2.8" clip-path="url(#cb)"/>
<line x1="379.4" y1="1299.5" x2="379.4" y2="1307.5" stroke="#14ebe8" stroke-width="2.8" clip-path="url(#cb)"/>
<path d="M365.9,1307.5 L392.9,1307.5 L379.4,1281.5 Z" stroke="#14ebe8" stroke-width="2.7" fill="none" />
<line x1="388.8" y1="1282.6" x2="404.1" y2="1282.6" stroke="#14ebe8" stroke-width="2.8" clip-path="url(#cb)"/>
<line x1="416.1" y1="1282.6" x2="431.2" y2="1282.6" stroke="#14ebe8" stroke-width="2.8" clip-path="url(#cb)"/>
<line x1="410.1" y1="1287.6" x2="410.1" y2="1295.6" stroke="#14ebe8" stroke-width="2.8" clip-path="url(#cb)"/>
<path d="M396.6,1295.6 L423.6,1295.6 L410.1,1269.6 Z" stroke="#14ebe8" stroke-width="2.7" fill="none" />
<line x1="431.2" y1="1285.5" x2="442.9" y2="1285.5" stroke="#14ebe8" stroke-width="2.8" clip-path="url(#cb)"/>
<line x1="454.9" y1="1285.5" x2="466.4" y2="1285.5" stroke="#14ebe8" stroke-width="2.8" clip-path="url(#cb)"/>
<line x1="448.9" y1="1290.5" x2="448.9" y2="1298.5" stroke="#14ebe8" stroke-width="2.8" clip-path="url(#cb)"/>
<path d="M435.4,1298.5 L462.4,1298.5 L448.9,1272.5 Z" stroke="#14ebe8" stroke-width="2.7" fill="none" />
<line x1="466.4" y1="1284.9" x2="482.5" y2="1284.9" stroke="#14ebe8" stroke-width="2.8" clip-path="url(#cb)"/>
<line x1="494.5" y1="1284.9" x2="498.9" y2="1284.9" stroke="#14ebe8" stroke-width="2.8" clip-path="url(#cb)"/>
<line x1="488.5" y1="1289.9" x2="488.5" y2="1297.9" stroke="#14ebe8" stroke-width="2.8" clip-path="url(#cb)"/>
<path d="M475,1297.9 L502,1297.9 L488.5,1271.9 Z" stroke="#14ebe8" stroke-width="2.7" fill="none" />
<line x1="498" y1="1275.7" x2="514" y2="1275.7" stroke="#14ebe8" stroke-width="2.8" clip-path="url(#cb)"/>
<line x1="526" y1="1275.7" x2="541.5" y2="1275.7" stroke="#14ebe8" stroke-width="2.8" clip-path="url(#cb)"/>
<line x1="520" y1="1280.7" x2="520" y2="1288.7" stroke="#14ebe8" stroke-width="2.8" clip-path="url(#cb)"/>
<path d="M506.5,1288.7 L533.5,1288.7 L520,1262.7 Z" stroke="#14ebe8" stroke-width="2.7" fill="none" />
<line x1="542.4" y1="1272.8" x2="554.5" y2="1272.8" stroke="#14ebe8" stroke-width="2.8" clip-path="url(#cb)"/>
<line x1="566.5" y1="1272.8" x2="579.1" y2="1272.8" stroke="#14ebe8" stroke-width="2.8" clip-path="url(#cb)"/>
<line x1="560.5" y1="1277.8" x2="560.5" y2="1285.8" stroke="#14ebe8" stroke-width="2.8" clip-path="url(#cb)"/>
<path d="M547,1285.8 L574,1285.8 L560.5,1259.8 Z" stroke="#14ebe8" stroke-width="2.7" fill="none" />
<line x1="578" y1="1292.7" x2="595.1" y2="1292.7" stroke="#14ebe8" stroke-width="2.8" clip-path="url(#cb)"/>
<line x1="607.1" y1="1292.7" x2="624.6" y2="1292.7" stroke="#14ebe8" stroke-width="2.8" clip-path="url(#cb)"/>
<line x1="601.1" y1="1297.7" x2="601.1" y2="1305.7" stroke="#14ebe8" stroke-width="2.8" clip-path="url(#cb)"/>
<path d="M587.6,1305.7 L614.6,1305.7 L601.1,1279.7 Z" stroke="#14ebe8" stroke-width="2.7" fill="none" />
<line x1="611.1" y1="1277.4" x2="628" y2="1277.4" stroke="#14ebe8" stroke-width="2.8" clip-path="url(#cb)"/>
<line x1="640" y1="1277.4" x2="658" y2="1277.4" stroke="#14ebe8" stroke-width="2.8" clip-path="url(#cb)"/>
<line x1="634" y1="1282.4" x2="634" y2="1290.4" stroke="#14ebe8" stroke-width="2.8" clip-path="url(#cb)"/>
<path d="M620.5,1290.4 L647.5,1290.4 L634,1264.4 Z" stroke="#14ebe8" stroke-width="2.7" fill="none" />
<line x1="644.5" y1="1292.2" x2="661.6" y2="1292.2" stroke="#14ebe8" stroke-width="2.8" clip-path="url(#cb)"/>
<line x1="673.6" y1="1292.2" x2="687.8" y2="1292.2" stroke="#14ebe8" stroke-width="2.8" clip-path="url(#cb)"/>
<line x1="667.6" y1="1297.2" x2="667.6" y2="1305.2" stroke="#14ebe8" stroke-width="2.8" clip-path="url(#cb)"/>
<path d="M654.1,1305.2 L681.1,1305.2 L667.6,1279.2 Z" stroke="#14ebe8" stroke-width="2.7" fill="none" />
<line x1="687.8" y1="1292.2" x2="695.4" y2="1292.2" stroke="#14ebe8" stroke-width="2.8" clip-path="url(#cb)"/>
<line x1="707.4" y1="1292.2" x2="712.2" y2="1292.2" stroke="#14ebe8" stroke-width="2.8" clip-path="url(#cb)"/>
<line x1="701.4" y1="1297.2" x2="701.4" y2="1305.2" stroke="#14ebe8" stroke-width="2.8" clip-path="url(#cb)"/>
<path d="M687.9,1305.2 L714.9,1305.2 L701.4,1279.2 Z" stroke="#14ebe8" stroke-width="2.7" fill="none" />
<line x1="712.2" y1="1289.1" x2="729.3" y2="1289.1" stroke="#14ebe8" stroke-width="2.8" clip-path="url(#cb)"/>
<line x1="741.3" y1="1289.1" x2="759.7" y2="1289.1" stroke="#14ebe8" stroke-width="2.8" clip-path="url(#cb)"/>
<line x1="735.3" y1="1294.1" x2="735.3" y2="1302.1" stroke="#14ebe8" stroke-width="2.8" clip-path="url(#cb)"/>
<path d="M721.8,1302.1 L748.8,1302.1 L735.3,1276.1 Z" stroke="#14ebe8" stroke-width="2.7" fill="none" />
<line x1="746.4" y1="1308.1" x2="763.7" y2="1308.1" stroke="#14ebe8" stroke-width="2.8" clip-path="url(#cb)"/>
<line x1="775.7" y1="1308.1" x2="793.6" y2="1308.1" stroke="#14ebe8" stroke-width="2.8" clip-path="url(#cb)"/>
<line x1="769.7" y1="1313.1" x2="769.7" y2="1321.1" stroke="#14ebe8" stroke-width="2.8" clip-path="url(#cb)"/>
<path d="M756.2,1321.1 L783.2,1321.1 L769.7,1295.1 Z" stroke="#14ebe8" stroke-width="2.7" fill="none" />
<line x1="784.2" y1="1319.5" x2="798.6" y2="1319.5" stroke="#14ebe8" stroke-width="2.8" clip-path="url(#cb)"/>
<line x1="810.6" y1="1319.5" x2="829.4" y2="1319.5" stroke="#14ebe8" stroke-width="2.8" clip-path="url(#cb)"/>
<line x1="804.6" y1="1324.5" x2="804.6" y2="1332.5" stroke="#14ebe8" stroke-width="2.8" clip-path="url(#cb)"/>
<path d="M791.1,1332.5 L818.1,1332.5 L804.6,1306.5 Z" stroke="#14ebe8" stroke-width="2.7" fill="none" />
<line x1="818.6" y1="1328" x2="833.9" y2="1328" stroke="#14ebe8" stroke-width="2.8" clip-path="url(#cb)"/>
<line x1="845.9" y1="1328" x2="864.6" y2="1328" stroke="#14ebe8" stroke-width="2.8" clip-path="url(#cb)"/>
<line x1="839.9" y1="1333" x2="839.9" y2="1341" stroke="#14ebe8" stroke-width="2.8" clip-path="url(#cb)"/>
<path d="M826.4,1341 L853.4,1341 L839.9,1315 Z" stroke="#14ebe8" stroke-width="2.7" fill="none" />
<line x1="852" y1="1338.5" x2="869.8" y2="1338.5" stroke="#14ebe8" stroke-width="2.8" clip-path="url(#cb)"/>
<line x1="881.8" y1="1338.5" x2="897.1" y2="1338.5" stroke="#14ebe8" stroke-width="2.8" clip-path="url(#cb)"/>
<line x1="875.8" y1="1343.5" x2="875.8" y2="1351.5" stroke="#14ebe8" stroke-width="2.8" clip-path="url(#cb)"/>
<path d="M862.3,1351.5 L889.3,1351.5 L875.8,1325.5 Z" stroke="#14ebe8" stroke-width="2.7" fill="none" />
<line x1="887.2" y1="1328.6" x2="906.1" y2="1328.6" stroke="#14ebe8" stroke-width="2.8" clip-path="url(#cb)"/>
<line x1="918.1" y1="1328.6" x2="931.4" y2="1328.6" stroke="#14ebe8" stroke-width="2.8" clip-path="url(#cb)"/>
<line x1="912.1" y1="1333.6" x2="912.1" y2="1341.6" stroke="#14ebe8" stroke-width="2.8" clip-path="url(#cb)"/>
<path d="M898.6,1341.6 L925.6,1341.6 L912.1,1315.6 Z" stroke="#14ebe8" stroke-width="2.7" fill="none" />
<line x1="920.6" y1="1328" x2="933.2" y2="1328" stroke="#14ebe8" stroke-width="2.8" clip-path="url(#cb)"/>
<line x1="945.2" y1="1328" x2="971.2" y2="1328" stroke="#14ebe8" stroke-width="2.8" clip-path="url(#cb)"/>
<line x1="939.2" y1="1333" x2="939.2" y2="1341" stroke="#14ebe8" stroke-width="2.8" clip-path="url(#cb)"/>
<path d="M925.7,1341 L952.7,1341 L939.2,1315 Z" stroke="#14ebe8" stroke-width="2.7" fill="none" />
<line x1="219.5" y1="1059.7" x2="219.5" y2="1109" stroke="#464646" stroke-width="3" clip-path="url(#cb)"/>
<line x1="219.5" y1="1109" x2="219.5" y2="1157.5" stroke="#464646" stroke-width="3" clip-path="url(#cb)"/>
<line x1="217" y1="1109" x2="219.5" y2="1109" stroke="#464646" stroke-width="3" clip-path="url(#cb)"/>
<line x1="219.5" y1="1109" x2="250" y2="1109" stroke="#464646" stroke-width="3" clip-path="url(#cb)"/>
<path d="M219.5,1122 L216.37,1113.31 L207.14,1113.02 L214.43,1107.35 L211.86,1098.48 L219.5,1103.67 L227.14,1098.48 L224.57,1107.35 L231.86,1113.02 L222.63,1113.31 Z" stroke="none" stroke-width="0" fill="#464646" />
<line x1="253.4" y1="1064.5" x2="253.4" y2="1114" stroke="#464646" stroke-width="3" clip-path="url(#cb)"/>
<line x1="253.4" y1="1114" x2="253.4" y2="1163.6" stroke="#464646" stroke-width="3" clip-path="url(#cb)"/>
<line x1="218" y1="1114" x2="253.4" y2="1114" stroke="#464646" stroke-width="3" clip-path="url(#cb)"/>
<line x1="253.4" y1="1114" x2="288" y2="1114" stroke="#464646" stroke-width="3" clip-path="url(#cb)"/>
<path d="M253.4,1127 L250.27,1118.31 L241.04,1118.02 L248.33,1112.35 L245.76,1103.48 L253.4,1108.67 L261.04,1103.48 L258.47,1112.35 L265.76,1118.02 L256.53,1118.31 Z" stroke="none" stroke-width="0" fill="#464646" />
<line x1="288.4" y1="1099" x2="288.4" y2="1146.7" stroke="#464646" stroke-width="3" clip-path="url(#cb)"/>
<line x1="288.4" y1="1146.7" x2="288.4" y2="1195" stroke="#464646" stroke-width="3" clip-path="url(#cb)"/>
<line x1="254.9" y1="1146.7" x2="288.4" y2="1146.7" stroke="#464646" stroke-width="3" clip-path="url(#cb)"/>
<line x1="288.4" y1="1146.7" x2="322.9" y2="1146.7" stroke="#464646" stroke-width="3" clip-path="url(#cb)"/>
<path d="M288.4,1159.7 L285.27,1151.01 L276.04,1150.72 L283.33,1145.05 L280.76,1136.18 L288.4,1141.37 L296.04,1136.18 L293.47,1145.05 L300.76,1150.72 L291.53,1151.01 Z" stroke="none" stroke-width="0" fill="#464646" />
<line x1="322.5" y1="1019.3" x2="322.5" y2="1071.7" stroke="#464646" stroke-width="3" clip-path="url(#cb)"/>
<line x1="322.5" y1="1071.7" x2="322.5" y2="1123.9" stroke="#464646" stroke-width="3" clip-path="url(#cb)"/>
<line x1="288" y1="1071.7" x2="322.5" y2="1071.7" stroke="#464646" stroke-width="3" clip-path="url(#cb)"/>
<line x1="322.5" y1="1071.7" x2="357" y2="1071.7" stroke="#464646" stroke-width="3" clip-path="url(#cb)"/>
<path d="M322.5,1084.7 L319.37,1076.01 L310.14,1075.72 L317.43,1070.05 L314.86,1061.18 L322.5,1066.37 L330.14,1061.18 L327.57,1070.05 L334.86,1075.72 L325.63,1076.01 Z" stroke="none" stroke-width="0" fill="#464646" />
<line x1="358.1" y1="1004.1" x2="358.1" y2="1056.9" stroke="#464646" stroke-width="3" clip-path="url(#cb)"/>
<line x1="358.1" y1="1056.9" x2="358.1" y2="1109.7" stroke="#464646" stroke-width="3" clip-path="url(#cb)"/>
<line x1="323.5" y1="1056.9" x2="358.1" y2="1056.9" stroke="#464646" stroke-width="3" clip-path="url(#cb)"/>
<line x1="358.1" y1="1056.9" x2="392.6" y2="1056.9" stroke="#464646" stroke-width="3" clip-path="url(#cb)"/>
<path d="M358.1,1069.9 L354.97,1061.21 L345.74,1060.92 L353.03,1055.25 L350.46,1046.38 L358.1,1051.57 L365.74,1046.38 L363.17,1055.25 L370.46,1060.92 L361.23,1061.21 Z" stroke="none" stroke-width="0" fill="#464646" />
<line x1="393.6" y1="1039.2" x2="393.6" y2="1090" stroke="#464646" stroke-width="3" clip-path="url(#cb)"/>
<line x1="393.6" y1="1090" x2="393.6" y2="1140.2" stroke="#464646" stroke-width="3" clip-path="url(#cb)"/>
<line x1="359.5" y1="1090" x2="393.6" y2="1090" stroke="#464646" stroke-width="3" clip-path="url(#cb)"/>
<line x1="393.6" y1="1090" x2="429.6" y2="1090" stroke="#464646" stroke-width="3" clip-path="url(#cb)"/>
<path d="M393.6,1103 L390.47,1094.31 L381.24,1094.02 L388.53,1088.35 L385.96,1079.48 L393.6,1084.67 L401.24,1079.48 L398.67,1088.35 L405.96,1094.02 L396.73,1094.31 Z" stroke="none" stroke-width="0" fill="#464646" />
<line x1="429.6" y1="1105.2" x2="429.6" y2="1154.4" stroke="#464646" stroke-width="3" clip-path="url(#cb)"/>
<line x1="429.6" y1="1154.4" x2="429.6" y2="1204.2" stroke="#464646" stroke-width="3" clip-path="url(#cb)"/>
<line x1="394" y1="1154.4" x2="429.6" y2="1154.4" stroke="#464646" stroke-width="3" clip-path="url(#cb)"/>
<line x1="429.6" y1="1154.4" x2="466.2" y2="1154.4" stroke="#464646" stroke-width="3" clip-path="url(#cb)"/>
<path d="M429.6,1167.4 L426.47,1158.71 L417.24,1158.42 L424.53,1152.75 L421.96,1143.88 L429.6,1149.07 L437.24,1143.88 L434.67,1152.75 L441.96,1158.42 L432.73,1158.71 Z" stroke="none" stroke-width="0" fill="#464646" />
<line x1="466.2" y1="1033.5" x2="466.2" y2="1085.7" stroke="#464646" stroke-width="3" clip-path="url(#cb)"/>
<line x1="466.2" y1="1085.7" x2="466.2" y2="1137.7" stroke="#464646" stroke-width="3" clip-path="url(#cb)"/>
<line x1="429.6" y1="1085.7" x2="466.2" y2="1085.7" stroke="#464646" stroke-width="3" clip-path="url(#cb)"/>
<line x1="466.2" y1="1085.7" x2="503.1" y2="1085.7" stroke="#464646" stroke-width="3" clip-path="url(#cb)"/>
<path d="M466.2,1098.7 L463.07,1090.01 L453.84,1089.72 L461.13,1084.05 L458.56,1075.18 L466.2,1080.37 L473.84,1075.18 L471.27,1084.05 L478.56,1089.72 L469.33,1090.01 Z" stroke="none" stroke-width="0" fill="#464646" />
<line x1="503.1" y1="1148.3" x2="503.1" y2="1195.4" stroke="#464646" stroke-width="3" clip-path="url(#cb)"/>
<line x1="503.1" y1="1195.4" x2="503.1" y2="1242.5" stroke="#464646" stroke-width="3" clip-path="url(#cb)"/>
<line x1="466.2" y1="1195.4" x2="503.1" y2="1195.4" stroke="#464646" stroke-width="3" clip-path="url(#cb)"/>
<line x1="503.1" y1="1195.4" x2="539.3" y2="1195.4" stroke="#464646" stroke-width="3" clip-path="url(#cb)"/>
<path d="M503.1,1208.4 L499.97,1199.71 L490.74,1199.42 L498.03,1193.75 L495.46,1184.88 L503.1,1190.07 L510.74,1184.88 L508.17,1193.75 L515.46,1199.42 L506.23,1199.71 Z" stroke="none" stroke-width="0" fill="#464646" />
<line x1="540.3" y1="1163.7" x2="540.3" y2="1210.6" stroke="#464646" stroke-width="3" clip-path="url(#cb)"/>
<line x1="540.3" y1="1210.6" x2="540.3" y2="1257.8" stroke="#464646" stroke-width="3" clip-path="url(#cb)"/>
<line x1="504.1" y1="1210.6" x2="540.3" y2="1210.6" stroke="#464646" stroke-width="3" clip-path="url(#cb)"/>
<line x1="540.3" y1="1210.6" x2="577.9" y2="1210.6" stroke="#464646" stroke-width="3" clip-path="url(#cb)"/>
<path d="M540.3,1223.6 L537.17,1214.91 L527.94,1214.62 L535.23,1208.95 L532.66,1200.08 L540.3,1205.27 L547.94,1200.08 L545.37,1208.95 L552.66,1214.62 L543.43,1214.91 Z" stroke="none" stroke-width="0" fill="#464646" />
<line x1="578.3" y1="1109.5" x2="578.3" y2="1152.5" stroke="#464646" stroke-width="3" clip-path="url(#cb)"/>
<line x1="578.3" y1="1152.5" x2="578.3" y2="1196.2" stroke="#464646" stroke-width="3" clip-path="url(#cb)"/>
<line x1="540.3" y1="1152.5" x2="578.3" y2="1152.5" stroke="#464646" stroke-width="3" clip-path="url(#cb)"/>
<line x1="578.3" y1="1152.5" x2="616.5" y2="1152.5" stroke="#464646" stroke-width="3" clip-path="url(#cb)"/>
<path d="M578.3,1165.5 L575.17,1156.81 L565.94,1156.52 L573.23,1150.85 L570.66,1141.98 L578.3,1147.17 L585.94,1141.98 L583.37,1150.85 L590.66,1156.52 L581.43,1156.81 Z" stroke="none" stroke-width="0" fill="#464646" />
<line x1="626.1" y1="1128.4" x2="626.1" y2="1170.4" stroke="#464646" stroke-width="3" clip-path="url(#cb)"/>
<line x1="626.1" y1="1170.4" x2="626.1" y2="1212" stroke="#464646" stroke-width="3" clip-path="url(#cb)"/>
<line x1="568.4" y1="1170.4" x2="626.1" y2="1170.4" stroke="#464646" stroke-width="3" clip-path="url(#cb)"/>
<line x1="626.1" y1="1170.4" x2="684.2" y2="1170.4" stroke="#464646" stroke-width="3" clip-path="url(#cb)"/>
<path d="M626.1,1183.4 L622.97,1174.71 L613.74,1174.42 L621.03,1168.75 L618.46,1159.88 L626.1,1165.07 L633.74,1159.88 L631.17,1168.75 L638.46,1174.42 L629.23,1174.71 Z" stroke="none" stroke-width="0" fill="#464646" />
<line x1="684.2" y1="1170.4" x2="684.2" y2="1212" stroke="#464646" stroke-width="3" clip-path="url(#cb)"/>
<line x1="684.2" y1="1212" x2="684.2" y2="1254.3" stroke="#464646" stroke-width="3" clip-path="url(#cb)"/>
<line x1="626.1" y1="1212" x2="684.2" y2="1212" stroke="#464646" stroke-width="3" clip-path="url(#cb)"/>
<line x1="684.2" y1="1212" x2="743.5" y2="1212" stroke="#464646" stroke-width="3" clip-path="url(#cb)"/>
<path d="M684.2,1225 L681.07,1216.31 L671.84,1216.02 L679.13,1210.35 L676.56,1201.48 L684.2,1206.67 L691.84,1201.48 L689.27,1210.35 L696.56,1216.02 L687.33,1216.31 Z" stroke="none" stroke-width="0" fill="#464646" />
<line x1="744.1" y1="1182.2" x2="744.1" y2="1223.2" stroke="#464646" stroke-width="3" clip-path="url(#cb)"/>
<line x1="744.1" y1="1223.2" x2="744.1" y2="1263.9" stroke="#464646" stroke-width="3" clip-path="url(#cb)"/>
<line x1="684.2" y1="1223.2" x2="744.1" y2="1223.2" stroke="#464646" stroke-width="3" clip-path="url(#cb)"/>
<line x1="744.1" y1="1223.2" x2="804.4" y2="1223.2" stroke="#464646" stroke-width="3" clip-path="url(#cb)"/>
<path d="M744.1,1236.2 L740.97,1227.51 L731.74,1227.22 L739.03,1221.55 L736.46,1212.68 L744.1,1217.87 L751.74,1212.68 L749.17,1221.55 L756.46,1227.22 L747.23,1227.51 Z" stroke="none" stroke-width="0" fill="#464646" />
<line x1="805" y1="1233.4" x2="805" y2="1272" stroke="#464646" stroke-width="3" clip-path="url(#cb)"/>
<line x1="805" y1="1272" x2="805" y2="1310.6" stroke="#464646" stroke-width="3" clip-path="url(#cb)"/>
<line x1="743.5" y1="1272" x2="805" y2="1272" stroke="#464646" stroke-width="3" clip-path="url(#cb)"/>
<line x1="805" y1="1272" x2="866.4" y2="1272" stroke="#464646" stroke-width="3" clip-path="url(#cb)"/>
<path d="M805,1285 L801.87,1276.31 L792.64,1276.02 L799.93,1270.35 L797.36,1261.48 L805,1266.67 L812.64,1261.48 L810.07,1270.35 L817.36,1276.02 L808.13,1276.31 Z" stroke="none" stroke-width="0" fill="#464646" />
<line x1="866.4" y1="1225.8" x2="866.4" y2="1264.4" stroke="#464646" stroke-width="3" clip-path="url(#cb)"/>
<line x1="866.4" y1="1264.4" x2="866.4" y2="1303.5" stroke="#464646" stroke-width="3" clip-path="url(#cb)"/>
<line x1="805" y1="1264.4" x2="866.4" y2="1264.4" stroke="#464646" stroke-width="3" clip-path="url(#cb)"/>
<line x1="866.4" y1="1264.4" x2="929" y2="1264.4" stroke="#464646" stroke-width="3" clip-path="url(#cb)"/>
<path d="M866.4,1277.4 L863.27,1268.71 L854.04,1268.42 L861.33,1262.75 L858.76,1253.88 L866.4,1259.07 L874.04,1253.88 L871.47,1262.75 L878.76,1268.42 L869.53,1268.71 Z" stroke="none" stroke-width="0" fill="#464646" />
<line x1="929.5" y1="1271.4" x2="929.5" y2="1303" stroke="#464646" stroke-width="3" clip-path="url(#cb)"/>
<line x1="929.5" y1="1303" x2="929.5" y2="1334.4" stroke="#464646" stroke-width="3" clip-path="url(#cb)"/>
<line x1="866.4" y1="1303" x2="929.5" y2="1303" stroke="#464646" stroke-width="3" clip-path="url(#cb)"/>
<line x1="929.5" y1="1303" x2="993.5" y2="1303" stroke="#464646" stroke-width="3" clip-path="url(#cb)"/>
<path d="M929.5,1316 L926.37,1307.31 L917.14,1307.02 L924.43,1301.35 L921.86,1292.48 L929.5,1297.67 L937.14,1292.48 L934.57,1301.35 L941.86,1307.02 L932.63,1307.31 Z" stroke="none" stroke-width="0" fill="#464646" />
<line x1="1016.4" y1="1301.9" x2="1016.4" y2="1332" stroke="#464646" stroke-width="3" clip-path="url(#cb)"/>
<line x1="1016.4" y1="1332" x2="1016.4" y2="1361.8" stroke="#464646" stroke-width="3" clip-path="url(#cb)"/>
<line x1="908.1" y1="1332" x2="1016.4" y2="1332" stroke="#464646" stroke-width="3" clip-path="url(#cb)"/>
<line x1="1016.4" y1="1332" x2="1124.8" y2="1332" stroke="#464646" stroke-width="3" clip-path="url(#cb)"/>
<path d="M1016.4,1345 L1013.27,1336.31 L1004.04,1336.02 L1011.33,1330.35 L1008.76,1321.48 L1016.4,1326.67 L1024.04,1321.48 L1021.47,1330.35 L1028.76,1336.02 L1019.53,1336.31 Z" stroke="none" stroke-width="0" fill="#464646" />
<line x1="1126.5" y1="1355.5" x2="1126.5" y2="1382.2" stroke="#464646" stroke-width="3" clip-path="url(#cb)"/>
<line x1="1126.5" y1="1382.2" x2="1126.5" y2="1410.7" stroke="#464646" stroke-width="3" clip-path="url(#cb)"/>
<line x1="1014.3" y1="1382.2" x2="1126.5" y2="1382.2" stroke="#464646" stroke-width="3" clip-path="url(#cb)"/>
<line x1="1126.5" y1="1382.2" x2="1239.2" y2="1382.2" stroke="#464646" stroke-width="3" clip-path="url(#cb)"/>
<path d="M1126.5,1395.2 L1123.37,1386.51 L1114.14,1386.22 L1121.43,1380.55 L1118.86,1371.68 L1126.5,1376.87 L1134.14,1371.68 L1131.57,1380.55 L1138.86,1386.22 L1129.63,1386.51 Z" stroke="none" stroke-width="0" fill="#464646" />
<line x1="1240.8" y1="1423.3" x2="1240.8" y2="1446.7" stroke="#464646" stroke-width="3" clip-path="url(#cb)"/>
<line x1="1240.8" y1="1446.7" x2="1240.8" y2="1471.7" stroke="#464646" stroke-width="3" clip-path="url(#cb)"/>
<line x1="1125.4" y1="1446.7" x2="1240.8" y2="1446.7" stroke="#464646" stroke-width="3" clip-path="url(#cb)"/>
<line x1="1240.8" y1="1446.7" x2="1357" y2="1446.7" stroke="#464646" stroke-width="3" clip-path="url(#cb)"/>
<path d="M1240.8,1459.7 L1237.67,1451.01 L1228.44,1450.72 L1235.73,1445.05 L1233.16,1436.18 L1240.8,1441.37 L1248.44,1436.18 L1245.87,1445.05 L1253.16,1450.72 L1243.93,1451.01 Z" stroke="none" stroke-width="0" fill="#464646" />
<line x1="1359" y1="1432" x2="1359" y2="1457.4" stroke="#464646" stroke-width="3" clip-path="url(#cb)"/>
<line x1="1359" y1="1457.4" x2="1359" y2="1482.2" stroke="#464646" stroke-width="3" clip-path="url(#cb)"/>
<line x1="1240.8" y1="1457.4" x2="1359" y2="1457.4" stroke="#464646" stroke-width="3" clip-path="url(#cb)"/>
<line x1="1359" y1="1457.4" x2="1479.2" y2="1457.4" stroke="#464646" stroke-width="3" clip-path="url(#cb)"/>
<path d="M1359,1470.4 L1355.87,1461.71 L1346.64,1461.42 L1353.93,1455.75 L1351.36,1446.88 L1359,1452.07 L1366.64,1446.88 L1364.07,1455.75 L1371.36,1461.42 L1362.13,1461.71 Z" stroke="none" stroke-width="0" fill="#464646" />
<line x1="1481.5" y1="1471.3" x2="1481.5" y2="1494.8" stroke="#464646" stroke-width="3" clip-path="url(#cb)"/>
<line x1="1481.5" y1="1494.8" x2="1481.5" y2="1517.6" stroke="#464646" stroke-width="3" clip-path="url(#cb)"/>
<line x1="1357.6" y1="1494.8" x2="1481.5" y2="1494.8" stroke="#464646" stroke-width="3" clip-path="url(#cb)"/>
<line x1="1481.5" y1="1494.8" x2="1605.7" y2="1494.8" stroke="#464646" stroke-width="3" clip-path="url(#cb)"/>
<path d="M1481.5,1507.8 L1478.37,1499.11 L1469.14,1498.82 L1476.43,1493.15 L1473.86,1484.28 L1481.5,1489.47 L1489.14,1484.28 L1486.57,1493.15 L1493.86,1498.82 L1484.63,1499.11 Z" stroke="none" stroke-width="0" fill="#464646" />
<line x1="1607.5" y1="1515" x2="1607.5" y2="1531.8" stroke="#464646" stroke-width="3" clip-path="url(#cb)"/>
<line x1="1607.5" y1="1531.8" x2="1607.5" y2="1548.6" stroke="#464646" stroke-width="3" clip-path="url(#cb)"/>
<line x1="1479.2" y1="1531.8" x2="1607.5" y2="1531.8" stroke="#464646" stroke-width="3" clip-path="url(#cb)"/>
<line x1="1607.5" y1="1531.8" x2="1657.5" y2="1531.8" stroke="#464646" stroke-width="3" clip-path="url(#cb)"/>
<path d="M1607.5,1544.8 L1604.37,1536.11 L1595.14,1535.82 L1602.43,1530.15 L1599.86,1521.28 L1607.5,1526.47 L1615.14,1521.28 L1612.57,1530.15 L1619.86,1535.82 L1610.63,1536.11 Z" stroke="none" stroke-width="0" fill="#464646" />
<line x1="1153.8" y1="1286" x2="1153.8" y2="1295.2" stroke="#7c6258" stroke-width="2.8" clip-path="url(#cb)"/>
<path d="M1153.8,1314.6 L1150.57,1305.65 L1141.06,1305.34 L1148.57,1299.5 L1145.92,1290.36 L1153.8,1295.7 L1161.68,1290.36 L1159.03,1299.5 L1166.54,1305.34 L1157.03,1305.65 Z" stroke="#7c6258" stroke-width="2.5" fill="none" stroke-linejoin="miter" stroke-miterlimit="10"/>
<line x1="1117.8" y1="1331" x2="1117.8" y2="1362.6" stroke="#7db9a0" stroke-width="2.8" clip-path="url(#cb)"/>
<line x1="1104.9" y1="1346.8" x2="1130.7" y2="1346.8" stroke="#7db9a0" stroke-width="2.3" clip-path="url(#cb)"/>
<line x1="1117.8" y1="1333.9" x2="1117.8" y2="1359.7" stroke="#7db9a0" stroke-width="2.3" clip-path="url(#cb)"/>
<line x1="1108.68" y1="1337.68" x2="1126.92" y2="1355.92" stroke="#7db9a0" stroke-width="2.3" clip-path="url(#cb)"/>
<line x1="1108.68" y1="1355.92" x2="1126.92" y2="1337.68" stroke="#7db9a0" stroke-width="2.3" clip-path="url(#cb)"/>
<path d="M217.5,1110.5 L397.6,1129.2 L577.7,1182.7 L757.8,1251.2 L937.9,1322.8 L1118,1387.5 L1298.4,1435.6 L1478.6,1476.4 L1658.7,1506.1" stroke="#ff0000" stroke-width="5" fill="none" stroke-linejoin="round" clip-path="url(#cb)"/>
<line x1="1009.6" y1="1275.9" x2="1009.6" y2="1328.3" stroke="#a29eb6" stroke-width="2.8" clip-path="url(#cb)"/>
<line x1="1009.6" y1="1328.3" x2="1009.6" y2="1381.1" stroke="#a29eb6" stroke-width="2.8" clip-path="url(#cb)"/>
<line x1="978.2" y1="1328.3" x2="1009.6" y2="1328.3" stroke="#a29eb6" stroke-width="2.8" clip-path="url(#cb)"/>
<line x1="1009.6" y1="1328.3" x2="1067.5" y2="1328.3" stroke="#a29eb6" stroke-width="2.8" clip-path="url(#cb)"/>
<path d="M1009.6,1315.7 L1018.6,1328.3 L1009.6,1340.9 L1000.6,1328.3 Z" stroke="none" stroke-width="0" fill="#a29eb6" />
<line x1="973.8" y1="1307.1" x2="973.8" y2="1339.8" stroke="#000000" stroke-width="3.2" clip-path="url(#cb)"/>
<line x1="973.8" y1="1339.8" x2="973.8" y2="1372.6" stroke="#000000" stroke-width="3.2" clip-path="url(#cb)"/>
<circle cx="973.8" cy="1339.8" r="13" fill="#000000"/>
<rect x="217.6" y="12.6" width="1440.8" height="684.9" fill="none" stroke="#000" stroke-width="3"/>
<rect x="217.6" y="904.2" width="1440.8" height="684" fill="none" stroke="#000" stroke-width="3"/>
<circle cx="1693.5" cy="152.4" r="13" fill="#000000"/>
<line x1="1679.4" y1="282.1" x2="1708.4" y2="282.1" stroke="#000" stroke-width="6"/>
<line x1="1679.4" y1="411.8" x2="1708.4" y2="411.8" stroke="#ff0000" stroke-width="6"/>
<path d="M1680,554.5 L1707,554.5 L1693.5,528.5 Z" stroke="#14ebe8" stroke-width="2.7" fill="none" />
<path d="M1693.5,658.2 L1702,671.2 L1693.5,684.2 L1685,671.2 Z" stroke="#62c85e" stroke-width="2.5" fill="none" />
<path d="M1689.4,788 L1697.6,788 L1697.6,796.8 L1706.4,796.8 L1706.4,805 L1697.6,805 L1697.6,813.8 L1689.4,813.8 L1689.4,805 L1680.6,805 L1680.6,796.8 L1689.4,796.8 Z" stroke="#5252b4" stroke-width="2.3" fill="none" />
<path d="M1693.5,943.6 L1690.37,934.91 L1681.14,934.62 L1688.43,928.95 L1685.86,920.08 L1693.5,925.27 L1701.14,920.08 L1698.57,928.95 L1705.86,934.62 L1696.63,934.91 Z" stroke="none" stroke-width="0" fill="#464646" />
<path d="M1693.5,1073.7 L1690.27,1064.75 L1680.76,1064.44 L1688.27,1058.6 L1685.62,1049.46 L1693.5,1054.8 L1701.38,1049.46 L1698.73,1058.6 L1706.24,1064.44 L1696.73,1064.75 Z" stroke="#7c6258" stroke-width="2.5" fill="none" stroke-linejoin="miter" stroke-miterlimit="10"/>
<line x1="1680.6" y1="1190" x2="1706.4" y2="1190" stroke="#7db9a0" stroke-width="2.3"/>
<line x1="1693.5" y1="1177.1" x2="1693.5" y2="1202.9" stroke="#7db9a0" stroke-width="2.3"/>
<line x1="1684.38" y1="1180.88" x2="1702.62" y2="1199.12" stroke="#7db9a0" stroke-width="2.3"/>
<line x1="1684.38" y1="1199.12" x2="1702.62" y2="1180.88" stroke="#7db9a0" stroke-width="2.3"/>
<path d="M1680,1306.7 L1707,1306.7 L1693.5,1332.7 Z" stroke="#7891c6" stroke-width="2.7" fill="none" />
<path d="M1693.5,1435.8 L1702.5,1449.4 L1693.5,1463 L1684.5,1449.4 Z" stroke="none" stroke-width="0" fill="#a29eb6" />
<text x="1712.1" y="170.7" font-size="52.7" text-anchor="start" >1</text>
<text x="1712.1" y="300.53" font-size="52.7" text-anchor="start" >2</text>
<text x="1712.1" y="430.36" font-size="52.7" text-anchor="start" >3</text>
<text x="1712.1" y="560.19" font-size="52.7" text-anchor="start" >4</text>
<text x="1712.1" y="690.02" font-size="52.7" text-anchor="start" >5</text>
<text x="1712.1" y="819.85" font-size="52.7" text-anchor="start" >6</text>
<text x="1712.1" y="949.68" font-size="52.7" text-anchor="start" >7</text>
<text x="1712.1" y="1079.51" font-size="52.7" text-anchor="start" >8</text>
<text x="1712.1" y="1209.34" font-size="52.7" text-anchor="start" >9</text>
<text x="1712.1" y="1339.17" font-size="52.7" text-anchor="start" >10</text>
<text x="1712.1" y="1469" font-size="52.7" text-anchor="start" >11</text>
</svg></body></html>
